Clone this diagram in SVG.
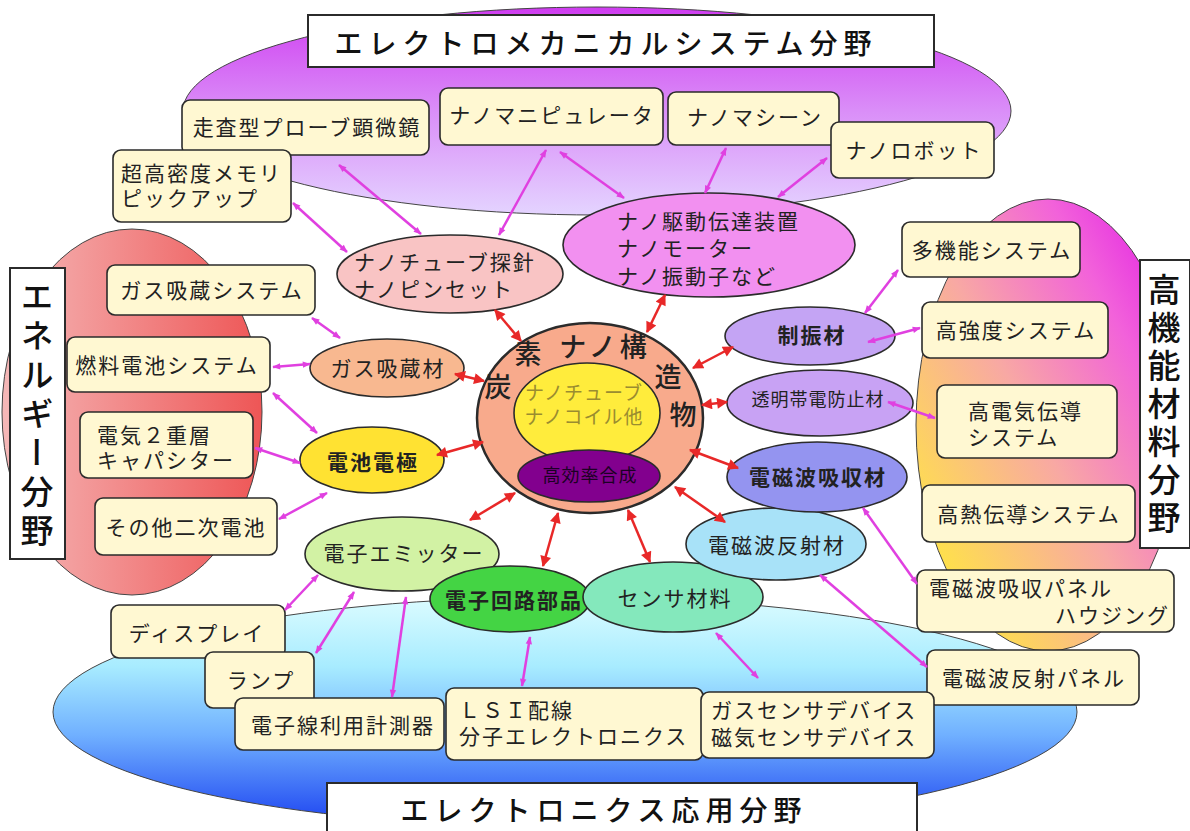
<svg xmlns="http://www.w3.org/2000/svg" width="1190" height="831" viewBox="0 0 1190 831">
<style>
.box{fill:#fff8d2;stroke:#2b2b2b;stroke-width:1.6}
.nd{stroke:#2b2b2b;stroke-width:1.6}
.t{font-family:"Liberation Sans","Noto Sans CJK JP","Noto Sans CJK SC",sans-serif;font-size:21px;letter-spacing:2px;fill:#222;dominant-baseline:central}
.c{text-anchor:middle}
.e{text-anchor:end}
.b{font-weight:bold}
.title{fill:#fff;stroke:#2b2b2b;stroke-width:2}
.tt{font-family:"Noto Sans CJK JP","Noto Sans CJK SC",sans-serif;font-size:28px;letter-spacing:6px;fill:#111;dominant-baseline:central;text-anchor:middle;font-weight:500}
.vt{font-family:"Noto Sans CJK JP","Noto Sans CJK SC",sans-serif;font-size:33px;letter-spacing:6px;fill:#111;writing-mode:vertical-rl;font-weight:500}
.mg{stroke:#e040e0;stroke-width:2.5;fill:none;marker-start:url(#ma);marker-end:url(#ma)}
.rd{stroke:#e82828;stroke-width:2.5;fill:none;marker-start:url(#ra);marker-end:url(#ra)}
.bg{stroke:#444;stroke-width:1}
.ct{font-family:"Noto Sans CJK JP","Noto Sans CJK SC",sans-serif;font-size:27px;fill:#222;dominant-baseline:central;text-anchor:middle;font-weight:500}
.pt{font-family:"Liberation Sans","Noto Sans CJK JP","Noto Sans CJK SC",sans-serif;font-size:18px;letter-spacing:1px;fill:#1c0024;dominant-baseline:central;text-anchor:middle}
</style>
<defs>
<linearGradient id="gTop" x1="0" y1="0" x2="0" y2="1"><stop offset="0" stop-color="#cf3cf0"/><stop offset="0.5" stop-color="#da8ef8"/><stop offset="1" stop-color="#e4d4ff"/></linearGradient>
<linearGradient id="gLeft" x1="0" y1="0" x2="1" y2="0"><stop offset="0" stop-color="#f5b8b8"/><stop offset="1" stop-color="#ee5656"/></linearGradient>
<linearGradient id="gRight" x1="0.1" y1="0.85" x2="0.9" y2="0.1"><stop offset="0" stop-color="#ffe446"/><stop offset="0.45" stop-color="#f8a8a4"/><stop offset="0.8" stop-color="#f262da"/><stop offset="1" stop-color="#e630e2"/></linearGradient>
<linearGradient id="gBot" x1="0" y1="0" x2="0" y2="1"><stop offset="0" stop-color="#dcfcff"/><stop offset="0.3" stop-color="#a8ecff"/><stop offset="0.6" stop-color="#70b0ff"/><stop offset="1" stop-color="#1a40f0"/></linearGradient>
<marker id="ma" viewBox="0 0 10 10" refX="9" refY="5" markerWidth="10" markerHeight="8" markerUnits="userSpaceOnUse" orient="auto-start-reverse"><path d="M0,1 L10,5 L0,9 z" fill="#e040e0"/></marker>
<marker id="ra" viewBox="0 0 10 10" refX="9" refY="5" markerWidth="13" markerHeight="11" markerUnits="userSpaceOnUse" orient="auto-start-reverse"><path d="M0,0 L10,5 L0,10 z" fill="#e82828"/></marker>
</defs>
<rect width="1190" height="831" fill="#fff"/>

<g id="backgrounds">
<ellipse class="bg" cx="597" cy="111" rx="414" ry="104" fill="url(#gTop)"/>
<ellipse class="bg" cx="132" cy="412" rx="130" ry="183" fill="url(#gLeft)" stroke="none"/>
<ellipse class="bg" cx="565" cy="712" rx="512" ry="115" fill="url(#gBot)"/>
<ellipse class="bg" cx="1048" cy="425" rx="132" ry="226" fill="url(#gRight)"/>
</g>

<g id="titles">
<g id="title-top"><rect class="title" x="308" y="15" width="626" height="52"/><text class="tt" x="606" y="42">エレクトロメカニカルシステム分野</text></g>
<g id="title-bottom"><rect class="title" x="327" y="783" width="590" height="60"/><text class="tt" x="604" y="809">エレクトロニクス応用分野</text></g>
<g id="title-left"><rect class="title" x="10" y="268" width="55" height="291"/><text class="vt" x="37" y="280">エネルギー分野</text></g>
<g id="title-right"><rect class="title" x="1140" y="260" width="50" height="288"/><text class="vt" x="1164" y="273" style="letter-spacing:5px">高機能材料分野</text></g>
</g>

<g id="b-sosa"><rect class="box" x="182" y="100" width="247" height="55" rx="8"/><text class="t c" x="307" y="127">走査型プローブ顕微鏡</text></g>
<g id="b-memory"><rect class="box" x="113" y="150" width="178" height="72" rx="8"/><text class="t" x="121" y="173">超高密度メモリ<tspan x="121" dy="25">ピックアップ</tspan></text></g>
<g id="b-manip"><rect class="box" x="440" y="88" width="223" height="57" rx="8"/><text class="t c" x="552" y="115">ナノマニピュレータ</text></g>
<g id="b-machine"><rect class="box" x="668" y="92" width="171" height="53" rx="8"/><text class="t c" x="755" y="117">ナノマシーン</text></g>
<g id="b-robot"><rect class="box" x="831" y="122" width="163" height="56" rx="8"/><text class="t c" x="914" y="150">ナノロボット</text></g>
<g id="b-multi"><rect class="box" x="902" y="222" width="178" height="55" rx="8"/><text class="t c" x="992" y="250">多機能システム</text></g>
<g id="b-strength"><rect class="box" x="922" y="302" width="186" height="56" rx="8"/><text class="t c" x="1016" y="330">高強度システム</text></g>
<g id="b-elec"><rect class="box" x="937" y="385" width="180" height="73" rx="8"/><text class="t" x="968" y="411">高電気伝導<tspan x="968" dy="26">システム</tspan></text></g>
<g id="b-heat"><rect class="box" x="922" y="485" width="213" height="57" rx="8"/><text class="t c" x="1029" y="514">高熱伝導システム</text></g>
<g id="b-absorb-panel"><rect class="box" x="917" y="570" width="257" height="62" rx="8"/><text class="t" x="929" y="588">電磁波吸収パネル<tspan x="1055" dy="27">ハウジング</tspan></text></g>
<g id="b-reflect-panel"><rect class="box" x="927" y="650" width="212" height="55" rx="8"/><text class="t c" x="1034" y="678">電磁波反射パネル</text></g>
<g id="b-gas"><rect class="box" x="107" y="265" width="208" height="50" rx="8"/><text class="t c" x="212" y="290">ガス吸蔵システム</text></g>
<g id="b-fuel"><rect class="box" x="67" y="337" width="203" height="55" rx="8"/><text class="t c" x="167" y="365">燃料電池システム</text></g>
<g id="b-edlc"><rect class="box" x="80" y="412" width="173" height="66" rx="8"/><text class="t" x="97" y="435">電気２重層<tspan x="97" dy="25">キャパシター</tspan></text></g>
<g id="b-other"><rect class="box" x="95" y="498" width="182" height="57" rx="8"/><text class="t c" x="186" y="527">その他二次電池</text></g>
<g id="b-display"><rect class="box" x="111" y="605" width="174" height="53" rx="8"/><text class="t c" x="197" y="633">ディスプレイ</text></g>
<g id="b-lamp"><rect class="box" x="205" y="652" width="109" height="56" rx="8"/><text class="t c" x="261" y="680">ランプ</text></g>
<g id="b-ebeam"><rect class="box" x="235" y="698" width="209" height="52" rx="8"/><text class="t c" x="343" y="725">電子線利用計測器</text></g>
<g id="b-lsi"><rect class="box" x="446" y="688" width="257" height="72" rx="8"/><text class="t" x="459" y="710">ＬＳＩ配線<tspan x="459" dy="26">分子エレクトロニクス</tspan></text></g>
<g id="b-gassensor"><rect class="box" x="701" y="692" width="233" height="66" rx="8"/><text class="t" x="711" y="710">ガスセンサデバイス<tspan x="711" dy="27">磁気センサデバイス</tspan></text></g>

<g id="e-tube"><ellipse class="nd" cx="450" cy="274" rx="113" ry="39" fill="#f9c4c4"/><text class="t" x="354" y="262">ナノチューブ探針<tspan x="354" dy="27">ナノピンセット</tspan></text></g>
<g id="e-drive"><ellipse class="nd" cx="709" cy="245" rx="146" ry="52" fill="#f290f0"/><text class="t" x="617" y="221">ナノ駆動伝達装置<tspan x="617" dy="27">ナノモーター</tspan><tspan x="617" dy="28">ナノ振動子など</tspan></text></g>
<g id="e-gasmat"><ellipse class="nd" cx="387" cy="368" rx="77" ry="29" fill="#f8b890"/><text class="t c" x="388" y="368">ガス吸蔵材</text></g>
<g id="e-battery"><ellipse class="nd" cx="372" cy="460" rx="72" ry="33" fill="#ffe232"/><text class="t c b" x="373" y="462">電池電極</text></g>
<g id="e-emitter"><ellipse class="nd" cx="402" cy="554" rx="97" ry="37" fill="#d2f2a4"/><text class="t c" x="404" y="553">電子エミッター</text></g>
<g id="e-circuit"><ellipse class="nd" cx="510" cy="599" rx="80" ry="33" fill="#44d444"/><text class="t c b" x="514" y="600">電子回路部品</text></g>
<g id="e-sensor"><ellipse class="nd" cx="673" cy="597" rx="90" ry="35" fill="#84e8bc"/><text class="t c" x="675" y="598">センサ材料</text></g>
<g id="e-reflect"><ellipse class="nd" cx="776" cy="544" rx="90" ry="36" fill="#a8e2f8"/><text class="t c" x="777" y="545">電磁波反射材</text></g>
<g id="e-absorb"><ellipse class="nd" cx="817" cy="477" rx="90" ry="35" fill="#9494f0"/><text class="t c b" x="818" y="477">電磁波吸収材</text></g>
<g id="e-antistatic"><ellipse class="nd" cx="820" cy="403" rx="93" ry="33" fill="#c8a2f4"/><text class="t c" x="818" y="400" style="font-size:18px;letter-spacing:1px">透明帯電防止材</text></g>
<g id="e-damping"><ellipse class="nd" cx="810" cy="336" rx="85" ry="29" fill="#c4a4f4"/><text class="t c b" x="812" y="335">制振材</text></g>

<g id="center">
<ellipse cx="590" cy="418" rx="113" ry="95" fill="#f8aa8c" stroke="#2b2b2b" stroke-width="2.5"/>
<ellipse cx="587" cy="413" rx="73" ry="50" fill="#ffec3c" stroke="#2b2b2b" stroke-width="1.6"/>
<ellipse cx="589" cy="476" rx="71" ry="26" fill="#82008e" stroke="#2b2b2b" stroke-width="1.6"/>
<text class="ct" x="498" y="385">炭</text>
<text class="ct" x="528" y="352">素</text>
<text class="ct" x="605" y="345" style="letter-spacing:4px">ナノ構</text>
<text class="ct" x="668" y="375">造</text>
<text class="ct" x="683" y="413">物</text>
<text class="t c" x="584" y="393" style="font-size:19px;letter-spacing:1px;fill:#9a8c30">ナノチューブ<tspan x="584" dy="24">ナノコイル他</tspan></text>
<text class="pt" x="590" y="476">高効率合成</text>
</g>

<g id="connectors">
<line class="mg" x1="293" y1="203" x2="347" y2="252"/>
<line class="mg" x1="339" y1="165" x2="421" y2="234"/>
<line class="mg" x1="546" y1="150" x2="499" y2="235"/>
<line class="mg" x1="560" y1="152" x2="624" y2="198"/>
<line class="mg" x1="726" y1="148" x2="705" y2="193"/>
<line class="mg" x1="827" y1="158" x2="778" y2="197"/>
<line class="mg" x1="898" y1="270" x2="865" y2="313"/>
<line class="mg" x1="920" y1="328" x2="868" y2="342"/>
<line class="mg" x1="888" y1="402" x2="935" y2="418"/>
<line class="mg" x1="863" y1="508" x2="917" y2="584"/>
<line class="mg" x1="820" y1="575" x2="927" y2="667"/>
<line class="mg" x1="716" y1="633" x2="758" y2="678"/>
<line class="mg" x1="530" y1="637" x2="522" y2="686"/>
<line class="mg" x1="406" y1="597" x2="392" y2="697"/>
<line class="mg" x1="354" y1="592" x2="316" y2="653"/>
<line class="mg" x1="318" y1="575" x2="285" y2="610"/>
<line class="mg" x1="279" y1="519" x2="327" y2="493"/>
<line class="mg" x1="255" y1="448" x2="300" y2="463"/>
<line class="mg" x1="273" y1="393" x2="317" y2="433"/>
<line class="mg" x1="273" y1="367" x2="310" y2="364"/>
<line class="mg" x1="312" y1="318" x2="340" y2="338"/>
<line class="rd" x1="495" y1="310" x2="521" y2="341"/>
<line class="rd" x1="665" y1="295" x2="647" y2="332"/>
<line class="rd" x1="455" y1="374" x2="484" y2="381"/>
<line class="rd" x1="437" y1="455" x2="483" y2="442"/>
<line class="rd" x1="470" y1="520" x2="515" y2="493"/>
<line class="rd" x1="558" y1="513" x2="543" y2="566"/>
<line class="rd" x1="628" y1="510" x2="650" y2="562"/>
<line class="rd" x1="675" y1="487" x2="725" y2="522"/>
<line class="rd" x1="690" y1="450" x2="738" y2="468"/>
<line class="rd" x1="702" y1="405" x2="727" y2="402"/>
<line class="rd" x1="693" y1="368" x2="733" y2="347"/>
</g>
</svg>
